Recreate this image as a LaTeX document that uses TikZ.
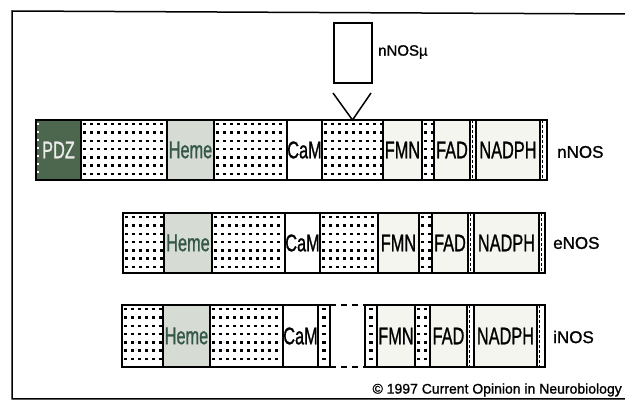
\documentclass[tikz,border=0pt]{standalone}
\usepackage{fontspec}
\setmainfont{Liberation Sans}
\newfontfamily\labfont[FakeBold=1.2]{Liberation Sans}
\usepackage{graphicx}
\definecolor{pdzgreen}{HTML}{4C674D}
\definecolor{hemegrey}{HTML}{D6DBD3}
\definecolor{hemetext}{HTML}{34574A}
\definecolor{flavo}{HTML}{F5F5F0}
\newcommand\lab[1]{\scalebox{0.68}[1]{\labfont\fontsize{24}{24}\selectfont #1}}
\newcommand\dotarea[4]{%
  \pgfmathsetmacro\xa{#1+2}\pgfmathsetmacro\xb{#1+9}\pgfmathsetmacro\xe{#2-3}%
  \pgfmathsetmacro\ya{#3+3}\pgfmathsetmacro\yb{#3+11.3}\pgfmathsetmacro\ye{#4-3}%
  \foreach \xx in {\xa,\xb,...,\xe}{\foreach \yy in {\ya,\yb,...,\ye}{\fill (\xx,\yy) rectangle ++(3.2,2.4);}}}
\newcommand\seg[7][]{\node[seg,#1,minimum width={(#4-#3)*1pt},minimum height={(#6-#5)*1pt}] (#2) at ({(#3+#4)/2},{(#5+#6)/2}) {#7};}
\newcommand\dseg[5]{\seg{#1}{#2}{#3}{#4}{#5}{}\dotarea{#2}{#3}{#4}{#5}}
\newcommand\sseg[5]{\seg{#1}{#2}{#3}{#4}{#5}{}\draw[densely dashed,line width=0.7pt] ({#2+2.5},#4) -- ({#2+2.5},#5);}
\newcommand\cseg[5]{\seg{#1}{#2}{#3}{#4}{#5}{}%
  \pgfmathsetmacro\xc{(#2+#3)/2-1.6}\pgfmathsetmacro\ya{#4+3}\pgfmathsetmacro\yb{#4+11.3}\pgfmathsetmacro\ye{#5-3}%
  \foreach \yy in {\ya,\yb,...,\ye}{\fill (\xc,\yy) rectangle ++(3.2,2.4);}}
\tikzset{
  seg/.style={draw, line width=1.1pt, inner sep=0pt, outer sep=0pt, fill=white},
  outlab/.style={anchor=west, inner sep=0pt, font=\labfont\fontsize{17}{17}\selectfont},
  frame/.style={line width=1.5pt}
}
\begin{document}
\begin{tikzpicture}[x=1pt,y=-1pt]
\useasboundingbox (0,0) rectangle (625,401);
% frame
\coordinate (f1) at (12,11);
\coordinate (f2) at (626,14);
\coordinate (f3) at (12,399);
\coordinate (f4) at (626,399);
\draw[frame] (f2) -- (f1) -- (f3) -- (f4);

% nNOSmu insert
\node[draw, line width=1.1pt, minimum width=38pt, minimum height=60pt, inner sep=0pt] (mu) at (353,53) {};
\node[outlab, font=\labfont\fontsize{15}{15}\selectfont] (mulab) at (378,52) {nNOSµ};

% nNOS row
\seg[fill=pdzgreen]{n-pdz}{36}{81}{120}{180}{\color{white!92!black}\lab{PDZ}}
\foreach \yy in {123,131,...,178}{\fill[white] (37,\yy) rectangle ++(2.2,2);}
\dseg{n-d1}{81}{167}{120}{180}
\seg[fill=hemegrey]{n-heme}{167}{214}{120}{180}{\color{hemetext}\lab{Heme}}
\dseg{n-d2}{214}{287}{120}{180}
\seg{n-cam}{287}{322}{120}{180}{\lab{CaM}}
\dseg{n-d3}{322}{383}{120}{180}
\seg[fill=flavo]{n-fmn}{383}{422}{120}{180}{\lab{FMN}}
\dseg{n-d4}{422}{434}{120}{180}
\seg[fill=flavo]{n-fad}{434}{470}{120}{180}{\lab{FAD}}
\sseg{n-s1}{470}{476}{120}{180}
\seg[fill=flavo]{n-nadph}{476}{540}{120}{180}{\lab{NADPH}}
\sseg{n-s2}{540}{547}{120}{180}
\node[outlab] (n-lab) at (557,152) {nNOS};

% insertion marker
\coordinate (vL) at (333,93);
\coordinate (vR) at (371,93);
\draw[line width=1.5pt] (vL) -- (n-d3.north) -- (vR);

% eNOS row
\dseg{e-d0}{123}{164}{213}{273}
\seg[fill=hemegrey]{e-heme}{164}{212}{213}{273}{\color{hemetext}\lab{Heme}}
\dseg{e-d2}{212}{285}{213}{273}
\seg{e-cam}{285}{320}{213}{273}{\lab{CaM}}
\dseg{e-d3}{320}{378}{213}{273}
\seg[fill=flavo]{e-fmn}{378}{419}{213}{273}{\lab{FMN}}
\dseg{e-d4}{419}{432}{213}{273}
\seg[fill=flavo]{e-fad}{432}{468}{213}{273}{\lab{FAD}}
\sseg{e-s1}{468}{474}{213}{273}
\seg[fill=flavo]{e-nadph}{474}{539}{213}{273}{\lab{NADPH}}
\sseg{e-s2}{539}{545}{213}{273}
\node[outlab] (e-lab) at (553,243) {eNOS};

% iNOS row
\dseg{i-d0}{122}{163}{305}{367}
\seg[fill=hemegrey]{i-heme}{163}{210}{305}{367}{\color{hemetext}\lab{Heme}}
\dseg{i-d2}{210}{283}{305}{367}
\seg{i-cam}{283}{318}{305}{367}{\lab{CaM}}
\cseg{i-c1}{318}{330}{305}{367}
\cseg{i-c2}{365}{377}{305}{367}
\draw[line width=1.1pt, dash pattern=on 6pt off 5pt] (i-c1.north east) -- (i-c2.north west);
\draw[line width=1.1pt, dash pattern=on 6pt off 5pt] (i-c1.south east) -- (i-c2.south west);
\seg[fill=flavo]{i-fmn}{377}{415}{305}{367}{\lab{FMN}}
\dseg{i-d4}{415}{430}{305}{367}
\seg[fill=flavo]{i-fad}{430}{467}{305}{367}{\lab{FAD}}
\sseg{i-s1}{467}{474}{305}{367}
\seg[fill=flavo]{i-nadph}{474}{537}{305}{367}{\lab{NADPH}}
\sseg{i-s2}{537}{545}{305}{367}
\node[outlab] (i-lab) at (553,337) {iNOS};

% credit
\node[anchor=east, inner sep=0pt, font=\labfont\fontsize{14}{14}\selectfont] (credit) at (622,390) {© 1997 Current Opinion in Neurobiology};
\end{tikzpicture}
\end{document}
